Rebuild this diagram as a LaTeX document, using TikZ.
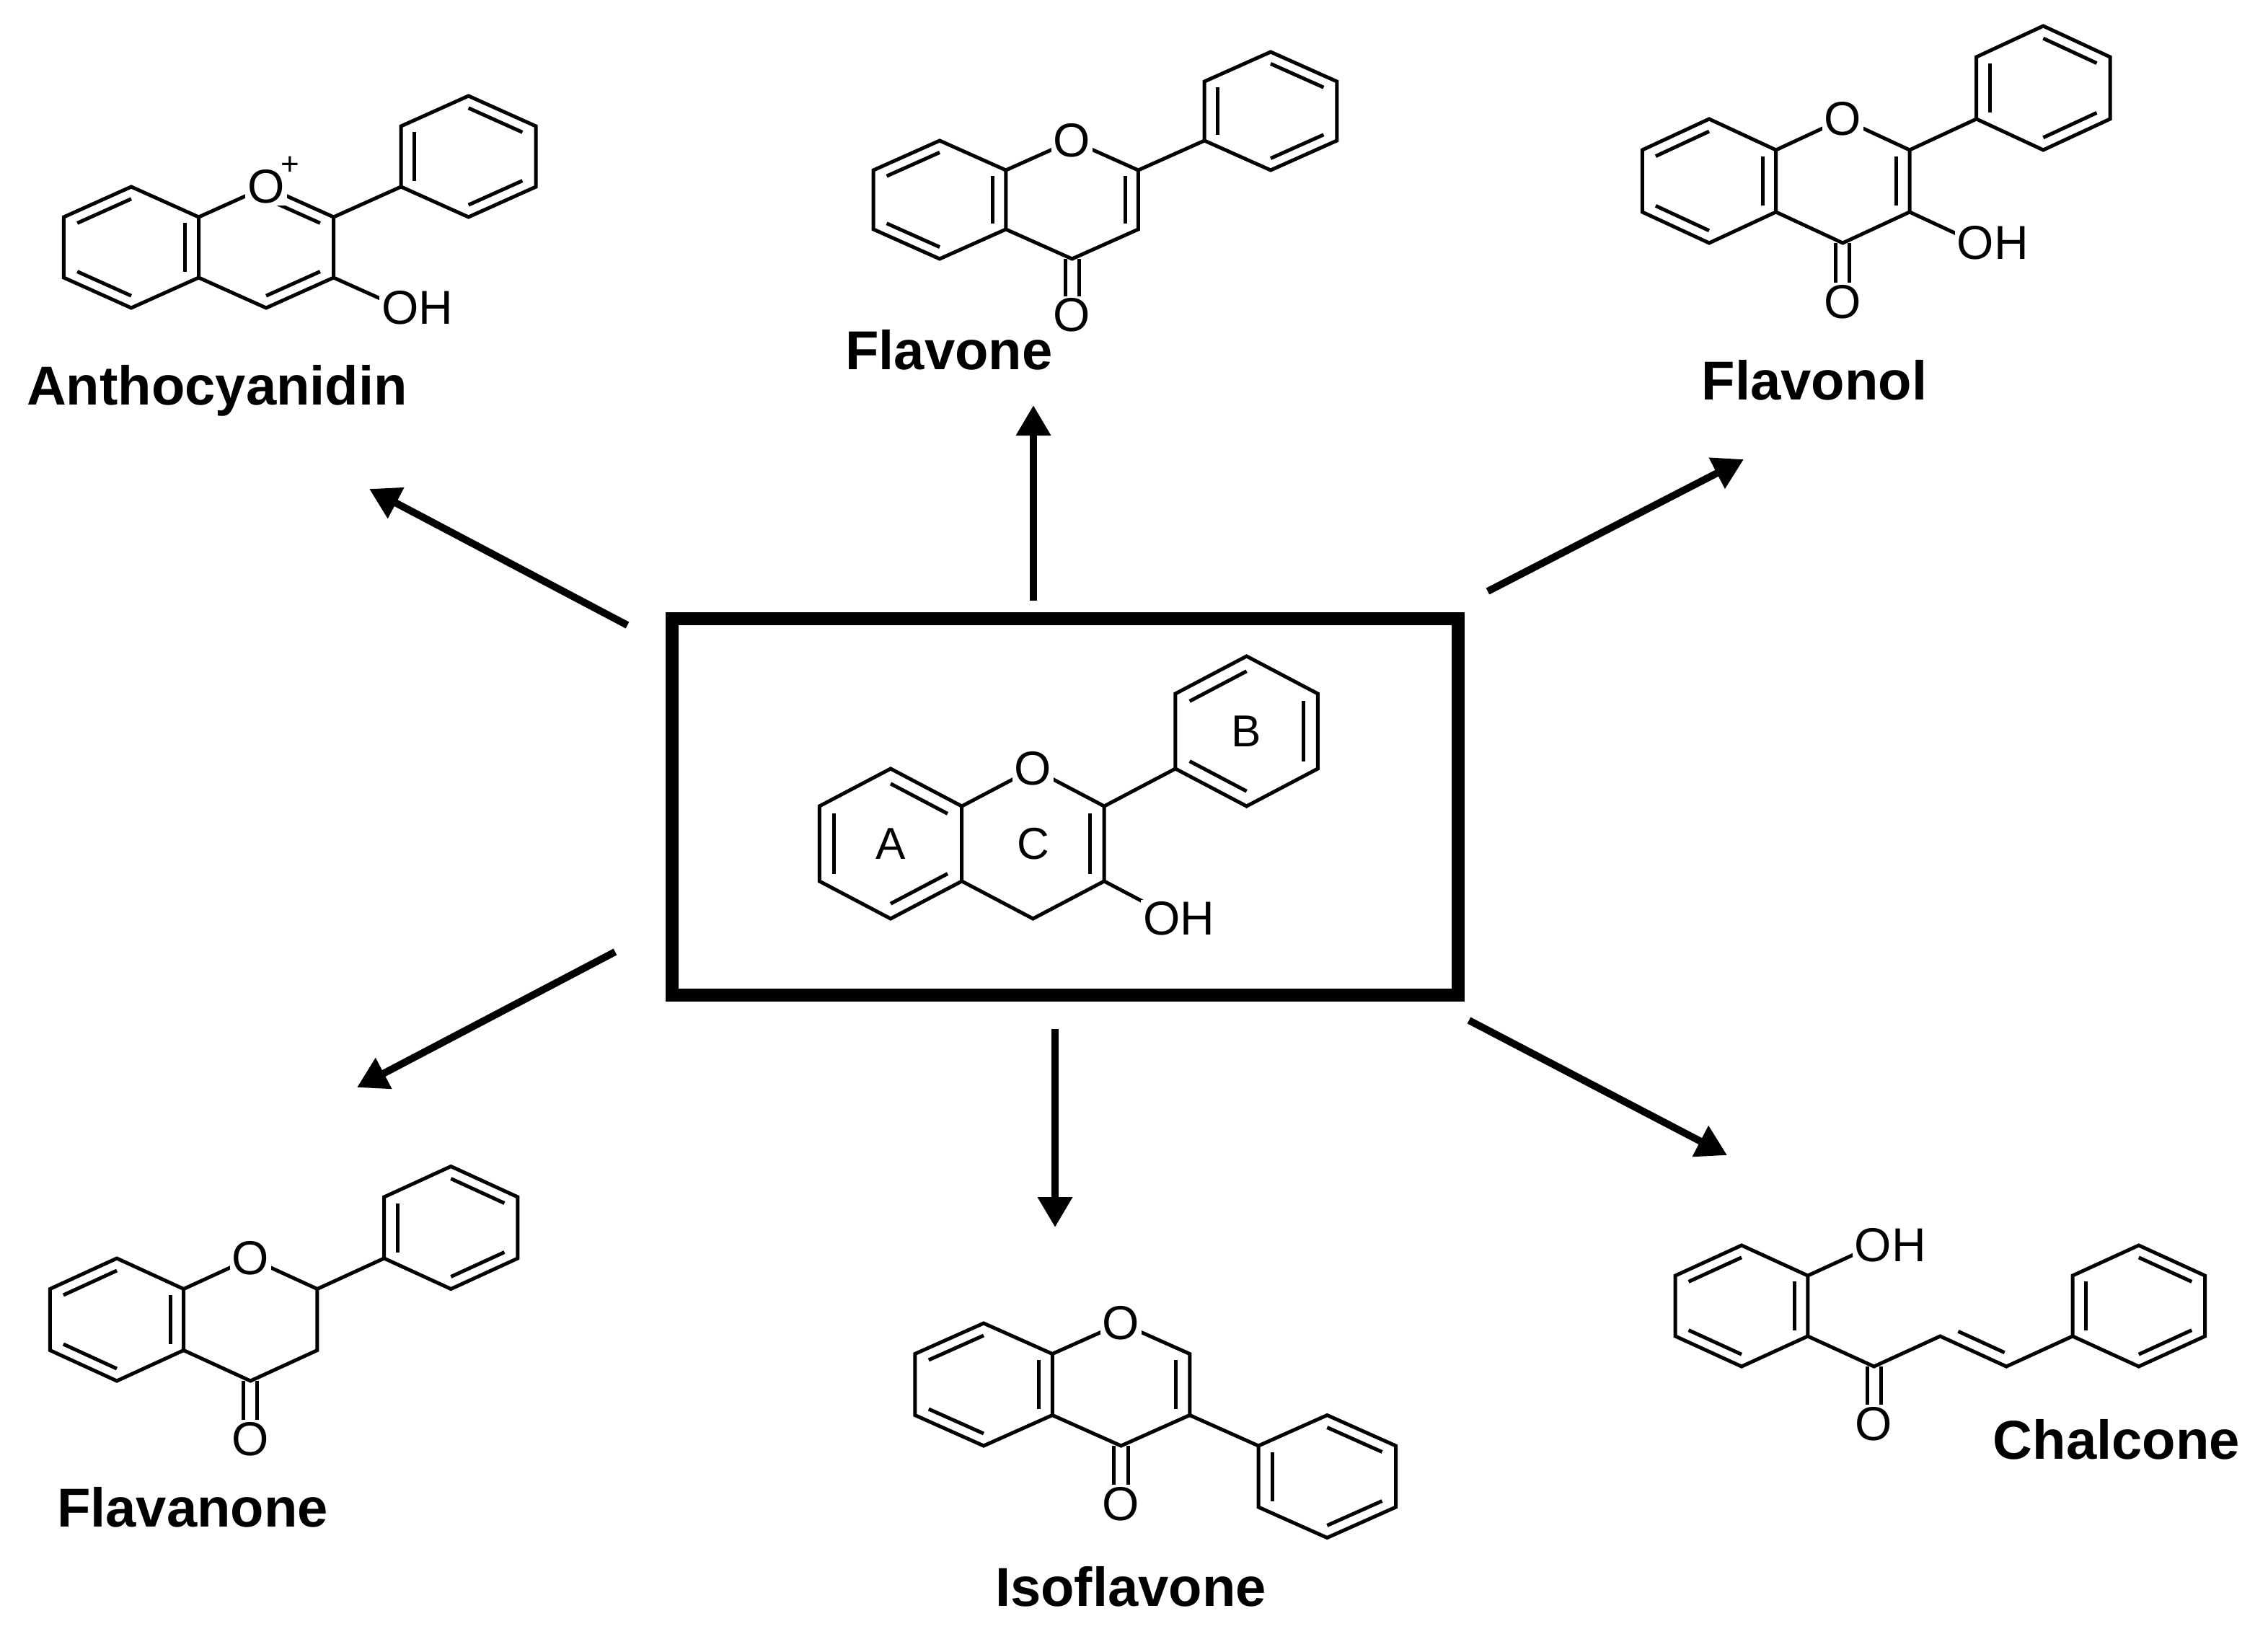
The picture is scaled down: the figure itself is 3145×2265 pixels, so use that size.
\documentclass[tikz,border=0pt]{standalone}
\usepackage{fontspec}
\newfontfamily\arialf{Liberation Sans}
\usetikzlibrary{calc,arrows.meta}
\newcommand\hexr[2]{%
 \draw[bond] ($(#1)+(30:1)$) -- ($(#1)+(90:1)$) -- ($(#1)+(150:1)$) -- ($(#1)+(210:1)$) -- ($(#1)+(270:1)$) -- ($(#1)+(330:1)$) -- cycle;
 \foreach \t in {#2}{\draw[bond] ($(#1)+(\t:0.8)$) -- ($(#1)+(\t+60:0.8)$);}}
\newcommand\chromane{%
 \coordinate (a1) at (0.866,0.5); \coordinate (a6) at (0.866,-0.5);
 \coordinate (o) at (1.732,1); \coordinate (c2) at (2.598,0.5);
 \coordinate (c3) at (2.598,-0.5); \coordinate (c4) at (1.732,-1);
 \coordinate (cc) at (1.732,0);
 \draw[bond] (a1) -- (o) -- (c2) -- (c3) -- (c4) -- (a6);}
\newcommand\innerb[2]{\draw[bond] ($(#1)!0.2!(cc)$) -- ($(#2)!0.2!(cc)$);}
\newcommand\carbonyl[1]{\coordinate (oc) at (1.732,-1.95);
 \draw[bond] ($(c4)+(-0.09,0)$) -- ($(oc)+(-0.09,0)$);
 \draw[bond] ($(c4)+(0.09,0)$) -- ($(oc)+(0.09,0)$);
 \node[atom] (#1) at (oc) {O};}
\begin{document}
\begin{tikzpicture}[x=1pt,y=-1pt,
 bond/.style={line width=5pt},
 atom/.style={font=\arialf\fontsize{66}{66}\selectfont, fill=white, inner sep=3pt},
 ohl/.style={atom, anchor=west, xshift=-30pt},
 ringlab/.style={font=\arialf\fontsize{62}{62}\selectfont, inner sep=0},
 lab/.style={font=\arialf\bfseries\fontsize{76}{76}\selectfont, inner sep=0},
 arr/.style={line width=10pt, -{Triangle[length=42pt,width=46pt]}}]
\useasboundingbox (0,0) rectangle (3145,2265);
\fill[white] (0,0) rectangle (3145,2265);

% central box
\node[draw, line width=18pt, minimum width=1090pt, minimum height=522pt, inner sep=0] (box) at (1477,1119) {};

% central molecule
\begin{scope}[shift={(1235pt,-1170pt)}, x={(114pt,0pt)}, y={(0pt,104pt)}]
 \hexr{0,0}{30,150,270}
 \chromane
 \innerb{c2}{c3}
 \draw[bond] (c2) -- (3.464,1);
 \hexr{4.33,1.5}{90,210,330}
 \draw[bond] (c3) -- (3.464,-1);
 \node[atom] (o0) at (o) {O};
 \node[ohl, xshift=-18pt] (oh0) at (3.464,-1) {OH};
 \node[ringlab] (ra) at (0,0) {A};
 \node[ringlab] (rc) at (1.732,0) {C};
 \node[ringlab] (rb) at (4.33,1.5) {B};
\end{scope}

% anthocyanidin
\begin{scope}[shift={(182pt,-343pt)}, x={(108pt,0pt)}, y={(0pt,84pt)}]
 \hexr{0,0}{90,210,330}
 \chromane
 \innerb{o}{c2}
 \innerb{c3}{c4}
 \draw[bond] (c2) -- (3.464,1);
 \hexr{4.33,1.5}{30,150,270}
 \draw[bond] (c3) -- (3.464,-1);
 \node[atom, label={[font=\arialf\fontsize{44}{44}\selectfont, inner sep=0, xshift=-6pt, yshift=-10pt]45:+}] (o1) at (o) {O};
 \node[ohl] (oh1) at (3.464,-1) {OH};
\end{scope}
\node[lab] (l1) at (301,542) {Anthocyanidin};

% flavone
\begin{scope}[shift={(1303pt,-277pt)}, x={(106pt,0pt)}, y={(0pt,82pt)}]
 \hexr{0,0}{90,210,330}
 \chromane
 \innerb{c2}{c3}
 \draw[bond] (c2) -- (3.464,1);
 \hexr{4.33,1.5}{30,150,270}
 \node[atom] (o2) at (o) {O};
 \carbonyl{oc2}
\end{scope}
\node[lab] (l2) at (1316,485) {Flavone};

% flavonol
\begin{scope}[shift={(2370pt,-251pt)}, x={(107pt,0pt)}, y={(0pt,86pt)}]
 \hexr{0,0}{90,210,330}
 \chromane
 \innerb{c2}{c3}
 \draw[bond] (c2) -- (3.464,1);
 \hexr{4.33,1.5}{30,150,270}
 \draw[bond] (c3) -- (3.464,-1);
 \node[atom] (o3) at (o) {O};
 \carbonyl{oc3}
 \node[ohl] (oh3) at (3.464,-1) {OH};
\end{scope}
\node[lab] (l3) at (2516,527) {Flavonol};

% flavanone
\begin{scope}[shift={(162pt,-1830pt)}, x={(107pt,0pt)}, y={(0pt,85pt)}]
 \hexr{0,0}{90,210,330}
 \chromane
 \draw[bond] (c2) -- (3.464,1);
 \hexr{4.33,1.5}{30,150,270}
 \node[atom] (o4) at (o) {O};
 \carbonyl{oc4}
\end{scope}
\node[lab] (l4) at (267,2090) {Flavanone};

% isoflavone
\begin{scope}[shift={(1364pt,-1920pt)}, x={(110pt,0pt)}, y={(0pt,85pt)}]
 \hexr{0,0}{90,210,330}
 \chromane
 \innerb{c2}{c3}
 \draw[bond] (c3) -- (3.464,-1);
 \hexr{4.33,-1.5}{30,150,270}
 \node[atom] (o5) at (o) {O};
 \carbonyl{oc5}
\end{scope}
\node[lab] (l5) at (1568,2200) {Isoflavone};

% chalcone
\begin{scope}[shift={(2415pt,-1811pt)}, x={(106pt,0pt)}, y={(0pt,84pt)}]
 \hexr{0,0}{90,210,330}
 \coordinate (a1) at (0.866,0.5); \coordinate (a6) at (0.866,-0.5);
 \coordinate (c4) at (1.732,-1); \coordinate (ca) at (2.598,-0.5);
 \coordinate (cb) at (3.464,-1); \coordinate (bv) at (4.33,-0.5);
 \draw[bond] (a1) -- (1.732,1);
 \draw[bond] (a6) -- (c4) -- (ca) -- (cb) -- (bv);
 \draw[bond] ($(ca)!0.18!(cb)+(0.08,0.17)$) -- ($(cb)!0.12!(ca)+(0.08,0.17)$);
 \hexr{5.196,0}{30,150,270}
 \carbonyl{oc6}
 \node[ohl] (oh6) at (1.732,1) {OH};
\end{scope}
\node[lab] (l6) at (2935,1996) {Chalcone};

% arrows
\coordinate (t1) at (870,867); \coordinate (h1) at (512,678);
\coordinate (t2) at (1433,833); \coordinate (h2) at (1433,562);
\coordinate (t3) at (2063,820); \coordinate (h3) at (2418,637);
\coordinate (t4) at (853,1320); \coordinate (h4) at (495,1508);
\coordinate (t5) at (1463,1427); \coordinate (h5) at (1463,1702);
\coordinate (t6) at (2037,1415); \coordinate (h6) at (2395,1602);
\foreach \i in {1,...,6} {\draw[arr] (t\i) -- (h\i);}
\end{tikzpicture}
\end{document}
